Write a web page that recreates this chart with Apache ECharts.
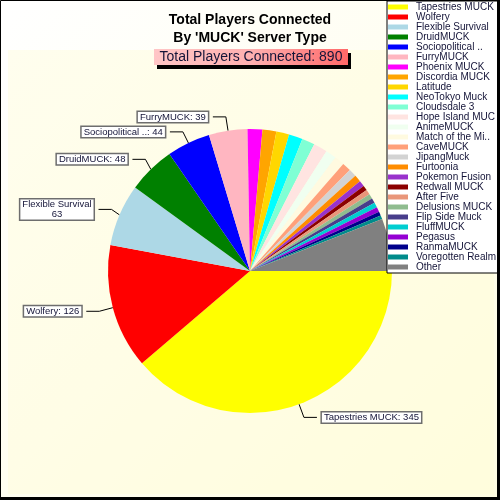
<!DOCTYPE html>
<html>
<head>
<meta charset="utf-8">
<script src="https://cdn.jsdelivr.net/npm/echarts@6/dist/echarts.min.js"></script>
<style>
html,body{margin:0;padding:0;background:#fff;}
#chart{width:500px;height:500px;}
</style>
</head>
<body>
<div id="chart"></div>
<script>
const names = [
  'Tapestries MUCK','Wolfery','Flexible Survival','DruidMUCK','Sociopolitical ..','FurryMUCK',
  'Phoenix MUCK','Discordia MUCK','Latitude','NeoTokyo Muck','Cloudsdale 3','Hope Island MUCK',
  'AnimeMUCK','Match of the Mi..','CaveMUCK','JipangMuck','Furtoonia','Pokemon Fusion',
  'Redwall MUCK','After Five','Delusions MUCK','Flip Side Muck','FluffMUCK','Pegasus',
  'RanmaMUCK','Voregotten Realm','Other'
];
const values = [
  345,126,63,48,44,39,
  15,14,13,14,13,14,
  11,10,9,8,7,6,
  5,5,5,5,5,5,
  4,4,53
];
const labeled = ['Tapestries MUCK','Wolfery','Flexible Survival','DruidMUCK','Sociopolitical ..','FurryMUCK'];
const twoLineLabels = ['Flexible Survival'];
const totalText = 'Total Players Connected: 890';
const titleText = "Total Players Connected\nBy 'MUCK' Server Type";

const palette = [
  '#FFFF00','#FF0000','#ADD8E6','#008000','#0000FF','#FFB6C1',
  '#FF00FF','#FFA500','#FFD700','#00FFFF','#7FFFD4','#FFE4E1',
  '#F0FFF0','#FFFAE0','#FFA07A','#D3D3D3','#FF8C00','#9932CC',
  '#8B0000','#E9967A','#8FBC8F','#483D8B','#00CED1','#9400D3',
  '#00008B','#008B8B','#808080'
];

const FONT = 'Liberation Sans, Arial, sans-serif';
const TXT = '#141438';

const pieData = names.map((n, i) => {
  const d = { name: n, value: values[i] };
  if (labeled.indexOf(n) >= 0) {
    d.label = { show: true, formatter: twoLineLabels.indexOf(n) >= 0 ? '{n|{b}}\n{n|{c}}' : '{b}: {c}' };
    d.labelLine = { show: true };
  }
  return d;
});

const chart = echarts.init(document.getElementById('chart'), null, { renderer: 'canvas' });
chart.setOption({
  animation: false,
  backgroundColor: {
    type: 'linear', x: 0, y: 0, x2: 1, y2: 1,
    colorStops: [{ offset: 0, color: '#ffffff' }, { offset: 1, color: '#fffde2' }]
  },
  color: palette,
  title: {
    text: titleText,
    left: 'center',
    top: 6,
    textStyle: { fontFamily: FONT, fontSize: 14, fontWeight: 'bold', color: '#000', lineHeight: 18 }
  },
  legend: {
    orient: 'vertical',
    left: 387,
    top: 1,
    padding: [1, 1, 1, 1],
    itemWidth: 20,
    itemHeight: 5,
    itemGap: 0,
    icon: 'rect',
    backgroundColor: '#ffffff',
    borderColor: '#000',
    borderWidth: 1,
    borderRadius: 0,
    z: 10,
    data: names,
    textStyle: { fontFamily: FONT, fontSize: 10, lineHeight: 10, color: TXT, width: 84, overflow: 'truncate', ellipsis: '', padding: [0, 0, 0, 3] }
  },
  graphic: [
    { type: 'rect', z: 0, shape: { x: 8, y: 50, width: 486, height: 444 }, style: { fill: 'rgba(255,252,210,0.35)' }, silent: true },
    { type: 'rect', z: 20, shape: { x: 157, y: 53, width: 194, height: 16 }, style: { fill: '#000' } },
    { type: 'rect', z: 21, shape: { x: 154, y: 49, width: 194, height: 16 },
      style: { fill: { type: 'linear', x: 0, y: 0, x2: 1, y2: 0,
        colorStops: [{ offset: 0, color: '#ffc6c6' }, { offset: 0.5, color: '#ffb0b0' }, { offset: 1, color: '#ff6868' }] } } },
    { type: 'text', z: 22, style: { text: totalText, x: 251, y: 57, align: 'center', verticalAlign: 'middle',
      font: '14px ' + FONT, fill: TXT } },
    { type: 'rect', z: 30, shape: { x: 0.5, y: 0.5, width: 497, height: 497 }, style: { fill: 'none', stroke: '#000', lineWidth: 1 } },
    { type: 'rect', z: 30, shape: { x: 497, y: 0, width: 3, height: 500 }, style: { fill: '#000' } },
    { type: 'rect', z: 30, shape: { x: 0, y: 497, width: 500, height: 3 }, style: { fill: '#000' } }
  ],
  series: [{
    type: 'pie',
    center: [250, 271],
    radius: 142,
    startAngle: 0,
    clockwise: true,
    avoidLabelOverlap: true,
    z: 2,
    itemStyle: { borderWidth: 0 },
    label: {
      show: false,
      position: 'outside',
      fontFamily: FONT,
      fontSize: 9.5,
      lineHeight: 10,
      color: TXT,
      backgroundColor: '#ffffff',
      borderColor: '#6e6e6e',
      borderWidth: 1.5,
      padding: [0, 2, 0, 2],
      align: 'center',
      rich: { n: { fontFamily: FONT, fontSize: 9.5, lineHeight: 10, color: TXT, align: 'center' } }
    },
    labelLine: { show: false, length: 14, length2: 13, lineStyle: { color: '#000', width: 1 } },
    emphasis: { disabled: true },
    data: pieData
  }]
});
</script>
</body>
</html>
